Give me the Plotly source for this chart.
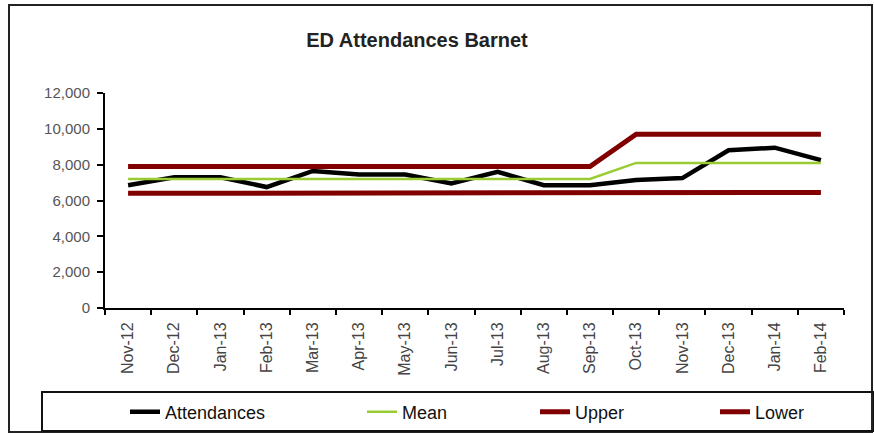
import plotly.graph_objects as go

months = ["Nov-12", "Dec-12", "Jan-13", "Feb-13", "Mar-13", "Apr-13", "May-13", "Jun-13",
          "Jul-13", "Aug-13", "Sep-13", "Oct-13", "Nov-13", "Dec-13", "Jan-14", "Feb-14"]
attendances = [6850, 7300, 7300, 6750, 7650, 7450, 7450, 6950,
               7600, 6850, 6850, 7150, 7250, 8800, 8950, 8250]
mean = [7200] * 11 + [8100] * 5
upper = [7900] * 11 + [9700] * 5
lower = [6400] * 11 + [6450] * 5
y_ticks = [0, 2000, 4000, 6000, 8000, 10000, 12000]

W, H = 874, 433
L, R, T, B = 105, 30, 93, 125
pw, ph = W - L - R, H - T - B

def px(x):
    return (x - L) / pw

def py(y):
    return 1 - (y - T) / ph

FONT = "Liberation Sans, Arial, sans-serif"

fig = go.Figure()
series = [
    ("Attendances", attendances, "#000000", 4.5, "legend"),
    ("Mean", mean, "#99cc33", 2.5, "legend2"),
    ("Upper", upper, "#800000", 5, "legend3"),
    ("Lower", lower, "#800000", 5, "legend4"),
]
for name, vals, col, w, lg in series:
    fig.add_trace(go.Scatter(x=months, y=vals, mode="lines", name=name,
                             line=dict(color=col, width=w), legend=lg))

leg_common = dict(orientation="h", yanchor="middle", y=py(412), xanchor="left",
                  bgcolor="rgba(0,0,0,0)", borderwidth=0,
                  font=dict(family=FONT, size=18, color="#111"))
leg_x = {"legend": 125, "legend2": 362, "legend3": 535, "legend4": 715}

fig.update_layout(
    width=W, height=H,
    margin=dict(l=L, r=R, t=T, b=B, autoexpand=False),
    paper_bgcolor="white", plot_bgcolor="white",
    font=dict(family=FONT, color="#333"),
    title=dict(text="<b>ED Attendances Barnet</b>", x=417 / W, xanchor="center",
               y=1 - 40 / H, yanchor="middle",
               font=dict(family=FONT, size=20, color="#222")),
    xaxis=dict(type="category", tickangle=-90, tickson="boundaries", ticks="outside",
               ticklen=5, tickwidth=1.5, tickcolor="#000", showline=True,
               linecolor="#000", linewidth=2, showgrid=False, automargin=False,
               ticklabelstandoff=6,
               tickfont=dict(family=FONT, size=16, color="#444"), range=[-0.5, 15.5]),
    yaxis=dict(range=[0, 12000], tickvals=y_ticks, tickformat=",", ticks="outside",
               ticklen=6, tickwidth=1.5, tickcolor="#000", showline=True,
               linecolor="#000", linewidth=2, showgrid=False, zeroline=False,
               automargin=False, ticklabelstandoff=4,
               tickfont=dict(family=FONT, size=15, color="#555")),
    showlegend=True,
    legend=dict(x=px(leg_x["legend"]), **leg_common),
    legend2=dict(x=px(leg_x["legend2"]), **leg_common),
    legend3=dict(x=px(leg_x["legend3"]), **leg_common),
    legend4=dict(x=px(leg_x["legend4"]), **leg_common),
    shapes=[
        dict(type="rect", xref="paper", yref="paper", x0=px(9), x1=px(872),
             y0=py(432), y1=py(5), line=dict(color="#222", width=2), layer="below"),
        dict(type="rect", xref="paper", yref="paper", x0=px(42), x1=px(874),
             y0=py(431), y1=py(392), line=dict(color="#111", width=2)),
    ],
)

fig.write_html("out.html", config={"displayModeBar": False},
               post_script="document.body.style.margin='0';")
